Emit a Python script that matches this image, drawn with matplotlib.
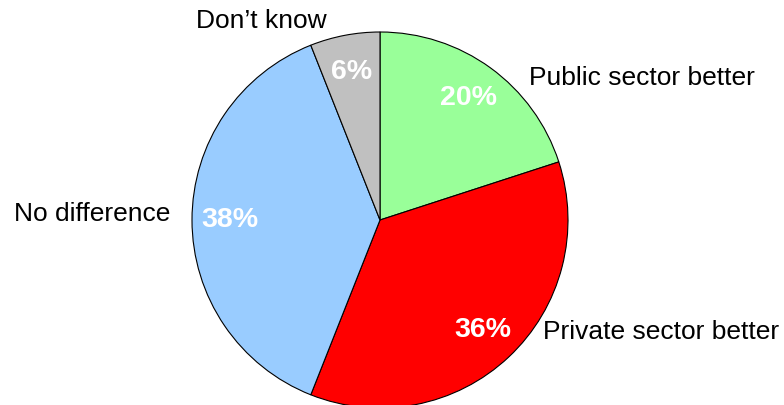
import matplotlib.pyplot as plt

categories = ["Public sector better", "Private sector better", "No difference", "Don\u2019t know"]
shares = [20, 36, 38, 6]
colors = ["#99FF99", "#FF0000", "#99CCFF", "#C0C0C0"]

# label placement (x, y, ha) in pie units
label_pos = [(0.79, 0.755, "left"), (0.865, -0.595, "left"),
             (-1.115, 0.03, "right"), (-0.63, 1.06, "center")]

plt.rcParams['font.family'] = ['Liberation Sans', 'DejaVu Sans']

fig = plt.figure(figsize=(7.84, 4.05), dpi=100)
cx, cy, r = 380, 405 - 220, 188
ax = fig.add_axes([(cx - r) / 784, (cy - r) / 405, 2 * r / 784, 2 * r / 405])

wedges, texts, autotexts = ax.pie(
    shares, labels=categories, colors=colors, startangle=90, counterclock=False,
    autopct="%d%%", pctdistance=0.8, radius=1,
    wedgeprops=dict(edgecolor="black", linewidth=0.8),
    textprops=dict(fontsize=19))

for t, (x, y, ha) in zip(texts, label_pos):
    t.set_position((x, y))
    t.set_ha(ha)
    t.set_va("center")

for t in autotexts:
    t.set_color("white")
    t.set_fontweight("bold")
    t.set_fontsize(20.5)

ax.set_xlim(-1, 1)
ax.set_ylim(-1, 1)
ax.set_aspect("equal")
ax.axis("off")

fig.savefig("out.png", dpi=100)
